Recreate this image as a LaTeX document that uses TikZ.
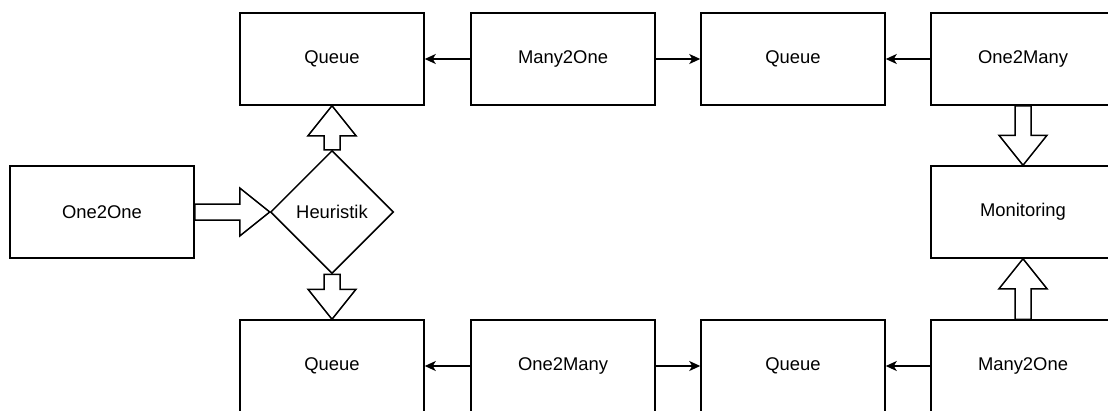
\documentclass[tikz,border=0pt]{standalone}
\usepackage{fontspec}
\setmainfont{Liberation Sans}
\usetikzlibrary{shapes.geometric,arrows.meta,calc}
\begin{document}
\begin{tikzpicture}[x=1pt,y=-1pt,
  box/.style={draw,line width=1.5pt,rectangle,minimum width=184pt,minimum height=92pt,inner sep=0pt,
    font=\fontsize{18.4}{22}\selectfont},
  decision/.style={draw,line width=1.5pt,diamond,aspect=1,minimum width=123pt,minimum height=123pt,inner sep=0pt,
    font=\fontsize{18.4}{22}\selectfont},
  flow/.style={line width=1.5pt,-{Stealth[length=11pt,width=10pt,inset=3pt]}},
  blk/.style={draw,line width=1.5pt,fill=white,line join=miter}]
\useasboundingbox (0,0) rectangle (1108,410);
\clip (0,0) rectangle (1108,410);

% upper chain
\node[box] (qa) at (332,59) {Queue};
\node[box] (mo1) at (563,59) {Many2One};
\node[box] (qb) at (793,59) {Queue};
\node[box] (om1) at (1023,59) {One2Many};

% middle row
\node[box] (oo) at (102,212) {One2One};
\node[decision] (heu) at (332,212) {Heuristik};
\node[box] (mon) at (1023,212) {Monitoring};

% lower chain
\node[box] (qc) at (332,366) {Queue};
\node[box] (om2) at (563,366) {One2Many};
\node[box] (qd) at (793,366) {Queue};
\node[box] (mo2) at (1023,366) {Many2One};

% thin connectors
\draw[flow] (mo1.west) -- (qa.east);
\draw[flow] (mo1.east) -- (qb.west);
\draw[flow] (om1.west) -- (qb.east);
\draw[flow] (om2.west) -- (qc.east);
\draw[flow] (om2.east) -- (qd.west);
\draw[flow] (mo2.west) -- (qd.east);

% block arrows
% One2One -> Heuristik
\draw[blk] ($(oo.east)+(0,-8)$) -- ($(heu.west)+(-30,-8)$) -- ($(heu.west)+(-30,-24)$)
  -- (heu.west) -- ($(heu.west)+(-30,24)$) -- ($(heu.west)+(-30,8)$) -- ($(oo.east)+(0,8)$) -- cycle;
% Heuristik -> upper Queue
\draw[blk] ($(heu.north)+(-8,0)$) -- ($(qa.south)+(-8,30)$) -- ($(qa.south)+(-24,30)$)
  -- (qa.south) -- ($(qa.south)+(24,30)$) -- ($(qa.south)+(8,30)$) -- ($(heu.north)+(8,0)$) -- cycle;
% Heuristik -> lower Queue
\draw[blk] ($(heu.south)+(-8,0)$) -- ($(qc.north)+(-8,-30)$) -- ($(qc.north)+(-24,-30)$)
  -- (qc.north) -- ($(qc.north)+(24,-30)$) -- ($(qc.north)+(8,-30)$) -- ($(heu.south)+(8,0)$) -- cycle;
% One2Many -> Monitoring
\draw[blk] ($(om1.south)+(-8,0)$) -- ($(mon.north)+(-8,-30)$) -- ($(mon.north)+(-24,-30)$)
  -- (mon.north) -- ($(mon.north)+(24,-30)$) -- ($(mon.north)+(8,-30)$) -- ($(om1.south)+(8,0)$) -- cycle;
% Many2One -> Monitoring
\draw[blk] ($(mo2.north)+(-8,0)$) -- ($(mon.south)+(-8,30)$) -- ($(mon.south)+(-24,30)$)
  -- (mon.south) -- ($(mon.south)+(24,30)$) -- ($(mon.south)+(8,30)$) -- ($(mo2.north)+(8,0)$) -- cycle;
\end{tikzpicture}
\end{document}
